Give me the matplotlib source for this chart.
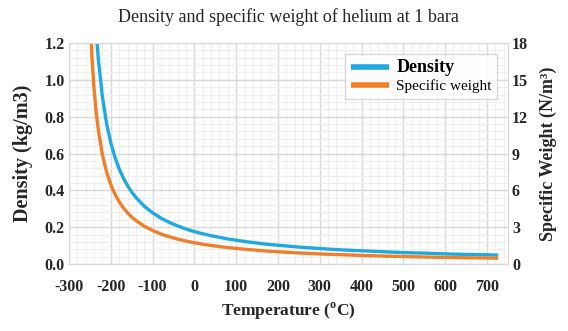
import matplotlib
matplotlib.use("Agg")
import matplotlib.pyplot as plt
from matplotlib.ticker import MultipleLocator

# Helium at 1 bara
temperature = [-250, -245, -240, -235, -230, -220, -210, -200, -190, -180,
               -170, -160, -150, -140, -120, -100, -80, -60, -40, -20,
               0, 20, 40, 60, 80, 100, 125, 150, 175, 200,
               225, 250, 275, 300, 350, 400, 450, 500, 550, 600,
               650, 700, 727]
density = [2.080, 1.710, 1.452, 1.262, 1.116, 0.906, 0.762, 0.658, 0.579, 0.517,
           0.467, 0.426, 0.391, 0.362, 0.314, 0.278, 0.249, 0.226, 0.207, 0.190,
           0.176, 0.164, 0.154, 0.145, 0.136, 0.129, 0.121, 0.114, 0.107, 0.102,
           0.097, 0.092, 0.088, 0.084, 0.077, 0.072, 0.067, 0.062, 0.059, 0.055,
           0.052, 0.050, 0.048]
specific_weight = [20.40, 16.77, 14.24, 12.38, 10.94, 8.88, 7.48, 6.46, 5.68, 5.07,
                   4.58, 4.17, 3.83, 3.55, 3.08, 2.73, 2.44, 2.22, 2.03, 1.87,
                   1.73, 1.61, 1.51, 1.42, 1.34, 1.27, 1.19, 1.12, 1.05, 1.00,
                   0.95, 0.90, 0.86, 0.82, 0.76, 0.70, 0.65, 0.61, 0.57, 0.54,
                   0.51, 0.49, 0.47]

BLUE = "#1ea9e1"
ORANGE = "#f07f2a"
TEXT = "#262626"
SERIF = "Liberation Serif"

plt.rcParams["font.family"] = SERIF
plt.rcParams["axes.unicode_minus"] = False
plt.rcParams["mathtext.fontset"] = "custom"
plt.rcParams["mathtext.rm"] = SERIF
plt.rcParams["mathtext.bf"] = SERIF + ":bold"

fig = plt.figure(figsize=(5.68, 3.31), dpi=100)
ax = fig.add_axes([0.1215, 0.2024, 0.7725, 0.6676])
ax2 = ax.twinx()

# grid
ax.set_xlim(-300, 750)
ax.set_ylim(0, 1.2)
ax2.set_ylim(0, 18)
ax.xaxis.set_major_locator(MultipleLocator(100))
ax.xaxis.set_minor_locator(MultipleLocator(20))
ax.yaxis.set_major_locator(MultipleLocator(0.2))
ax.yaxis.set_minor_locator(MultipleLocator(0.04))
ax2.yaxis.set_major_locator(MultipleLocator(3))
ax.grid(True, which="major", color="#d9d9d9", linewidth=1.0)
ax.grid(True, which="minor", color="#eeeeee", linewidth=0.8)
ax.set_axisbelow(True)

# curves
l1, = ax.plot(temperature, density, color=BLUE, linewidth=2.4,
              solid_capstyle="butt", label="Density")
l2, = ax2.plot(temperature, specific_weight, color=ORANGE, linewidth=2.4,
               solid_capstyle="butt", label="Specific weight")

for a in (ax, ax2):
    for s in a.spines.values():
        s.set_color("#d9d9d9")
    a.tick_params(which="both", length=0, labelsize=11.5)
ax.tick_params(axis="x", pad=11)
ax.tick_params(axis="y", pad=3)
ax2.tick_params(axis="y", pad=3)

ax.set_yticklabels([f"{v:.1f}" for v in ax.get_yticks()])
for lab in ax.get_xticklabels() + ax.get_yticklabels() + ax2.get_yticklabels():
    lab.set_fontweight("bold")
    lab.set_color(TEXT)

ax.set_title("Density and specific weight of helium at 1 bara",
             fontsize=13, color=TEXT, pad=15)
ax.set_xlabel(r"Temperature ($^{\mathbf{o}}$C)", fontsize=12.5,
              fontweight="bold", color=TEXT, labelpad=4)
ax.set_ylabel("Density (kg/m3)", fontsize=14.5, fontweight="bold",
              color=TEXT, labelpad=8)
ax2.set_ylabel("Specific Weight (N/m³)", fontsize=13, fontweight="bold",
               color=TEXT, labelpad=8)

leg = ax2.legend(handles=[l1, l2], loc="upper right",
                 bbox_to_anchor=(0.993, 0.985), fontsize=11,
                 frameon=True, fancybox=False, handlelength=2.5,
                 borderpad=0.35, labelspacing=0.2, handletextpad=0.5)
leg.get_frame().set_edgecolor("#d0d0d0")
leg.get_frame().set_linewidth(1.0)
for line in leg.get_lines():
    line.set_linewidth(4)
leg.get_texts()[0].set_fontweight("bold")
leg.get_texts()[0].set_fontsize(13)

fig.savefig("out.png", dpi=100)
